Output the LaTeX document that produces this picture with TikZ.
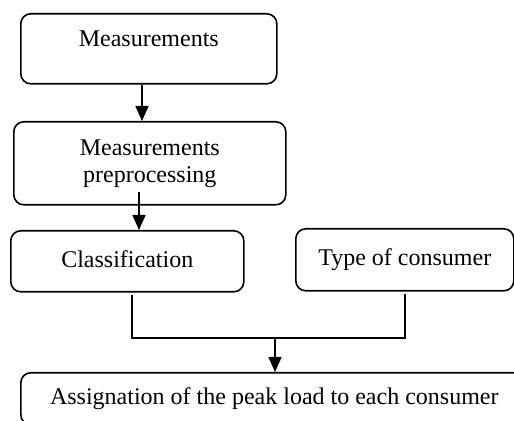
\documentclass[tikz,border=0pt]{standalone}
\usepackage{fontspec}
\setmainfont{Liberation Serif}
\usepackage{tikz}
\usetikzlibrary{arrows.meta}
\tikzset{flow box/.style={draw,rounded corners=5pt,line width=0.8pt,anchor=north west,align=center,inner sep=0pt,font=\fontsize{12}{13.5}\selectfont},one line/.style={text height=8.5pt,text depth=2.5pt},flow line/.style={line width=0.8pt},flow arrow/.style={flow line,-{Triangle[length=7.5pt,width=6.5pt]}}}

\begin{document}
\begin{tikzpicture}[x=0.5pt,y=-0.5pt]
	\clip (0,0) rectangle (514,421);
	\useasboundingbox (0,0) rectangle (514,421);
	\node[flow box,one line,minimum width=128pt,minimum height=35pt,text depth=10.5pt] (meas) at (20,13) {Measurements};
	\node[flow box,minimum width=136pt,minimum height=41.5pt] (prep) at (13,121) {Measurements\\preprocessing};
	\node[flow box,one line,minimum width=116.5pt,minimum height=30.5pt] (class) at (10,230) {Classification};
	\node[flow box,one line,minimum width=109pt,minimum height=31pt] (type) at (295,228) {Type of consumer};
	\node[flow box,one line,minimum width=253.5pt,minimum height=26pt] (assign) at (20,372) {Assignation of the peak load to each consumer};

	\coordinate (a1) at (142,0);
	\coordinate (a2) at (139,0);
	\coordinate (cl) at (132,0);
	\coordinate (tl) at (405,0);
	\coordinate (join) at (275,338);

	\draw[flow arrow] (meas.south -| a1) -- (prep.north -| a1);
	\draw[flow arrow] ([yshift=7pt]prep.south -| a2) -- (class.north -| a2);
	\draw[flow line] ([yshift=-1pt]class.south -| cl) |- (join) -| ([yshift=-1pt]type.south -| tl);
	\draw[flow arrow] (join) -- (assign.north -| join);
\end{tikzpicture}
\end{document}
